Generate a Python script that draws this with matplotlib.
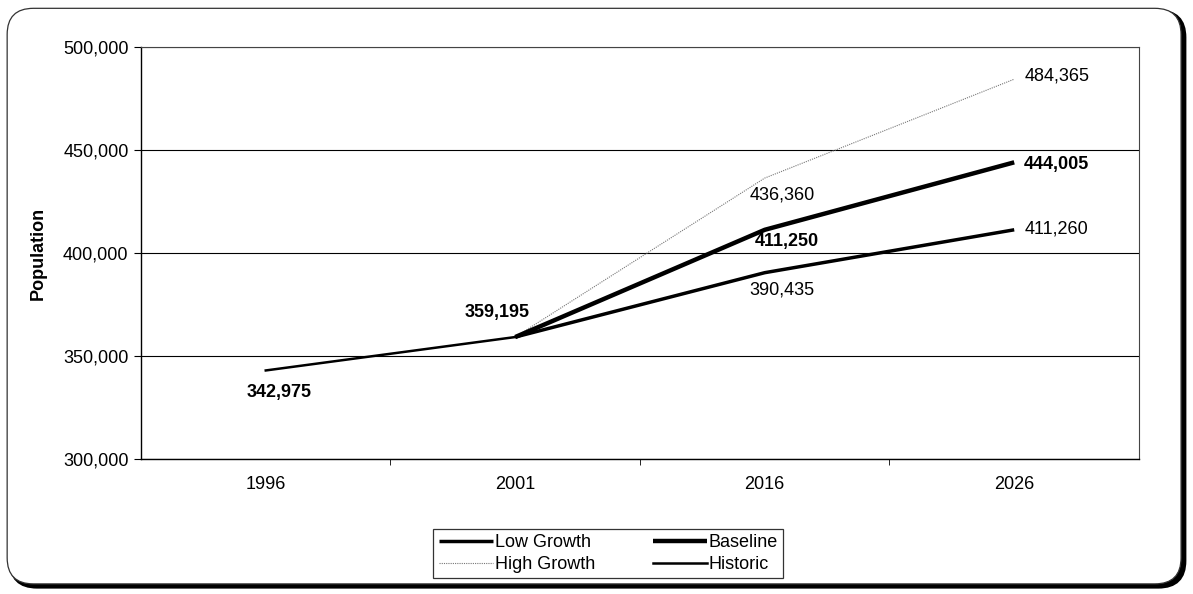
import matplotlib
matplotlib.use('Agg')
import matplotlib.pyplot as plt
from matplotlib.patches import FancyBboxPatch
from matplotlib.ticker import FuncFormatter

plt.rcParams['font.family'] = ['Liberation Sans', 'DejaVu Sans']

# ---------- DATA ----------
years = ["1996", "2001", "2016", "2026"]
historic = [342975, 359195]
low_growth = [359195, 390435, 411260]
baseline = [359195, 411250, 444005]
high_growth = [359195, 436360, 484365]

hist_x = [0, 1]
proj_x = [1, 2, 3]

fig = plt.figure(figsize=(11.93, 5.94), dpi=100)

# ---------- OUTER FRAME ----------
shadow = FancyBboxPatch((0.009, 0.012), 0.984, 0.969,
                        boxstyle="round,pad=0,rounding_size=0.022",
                        transform=fig.transFigure, facecolor='black',
                        edgecolor='black', lw=2.5, mutation_aspect=2.0,
                        zorder=-3)
frame = FancyBboxPatch((0.006, 0.017), 0.984, 0.969,
                       boxstyle="round,pad=0,rounding_size=0.022",
                       transform=fig.transFigure, facecolor='white',
                       edgecolor='#333333', lw=0.9, mutation_aspect=2.0,
                       zorder=-2)
fig.patches.append(shadow)
fig.patches.append(frame)

ax = fig.add_axes([0.1182, 0.2273, 0.8365, 0.6936])
ax.set_zorder(1)

# ---------- LINES ----------
ax.plot(proj_x, low_growth, color='black', lw=2.5, label='Low Growth',
        solid_capstyle='butt', zorder=3)
ax.plot(proj_x, high_growth, color='#777777', lw=0.8, ls=(0, (1, 1)),
        label='High Growth', zorder=3)
ax.plot(proj_x, baseline, color='black', lw=3.2, label='Baseline',
        solid_capstyle='butt', zorder=4)
ax.plot(hist_x, historic, color='black', lw=1.8, label='Historic', zorder=3)

# ---------- VALUE LABELS ----------
fs = 13
def label(x, y, dx, dy, bold=False, ha='center'):
    ax.annotate(f"{y:,}", (x, y), xytext=(dx, dy), textcoords='offset pixels',
                ha=ha, va='center', fontsize=fs,
                fontweight='bold' if bold else 'normal', zorder=5)

label(0, historic[0], 13, -22, bold=True)
label(1, historic[1], -18, 25, bold=True)
label(2, high_growth[1], 18, -17)
label(2, baseline[1], 22, -12, bold=True)
label(2, low_growth[1], 17, -17)
label(3, high_growth[2], 10, 3, ha='left')
label(3, baseline[2], 10, -2, ha='left', bold=True)
label(3, low_growth[2], 10, 1, ha='left')

# ---------- AXES ----------
ax.set_xlim(-0.5, 3.5)
ax.set_ylim(300000, 500000)
ax.set_yticks(range(300000, 500001, 50000))
ax.yaxis.set_major_formatter(FuncFormatter(lambda v, p: f"{int(v):,}"))
ax.grid(axis='y', color='black', lw=0.8)
ax.set_axisbelow(True)

ax.set_xticks(range(len(years)))
ax.set_xticklabels(years)
ax.set_xticks([0.5, 1.5, 2.5], minor=True)
ax.tick_params(axis='x', which='major', length=0, pad=12, labelsize=fs)
ax.tick_params(axis='x', which='minor', length=4, direction='out')
ax.tick_params(axis='y', length=5, direction='out', labelsize=fs, pad=4)

for side in ['left', 'bottom']:
    ax.spines[side].set_linewidth(1.0)
for side in ['top', 'right']:
    ax.spines[side].set_linewidth(0.8)
    ax.spines[side].set_color('#444444')

ax.set_ylabel("Population", fontsize=fs, fontweight='bold', labelpad=12)

# ---------- LEGEND ----------
leg = fig.legend(loc='center', bbox_to_anchor=(0.51, 0.068), ncol=2,
                 fontsize=fs, frameon=True, fancybox=False, handlelength=3.0,
                 handletextpad=0.1, columnspacing=3.2, labelspacing=0.25,
                 borderpad=0.3, borderaxespad=0)
leg.get_frame().set_edgecolor('black')
leg.get_frame().set_linewidth(0.9)
leg.set_zorder(2)

fig.savefig("out.png", dpi=100)
plt.close(fig)
